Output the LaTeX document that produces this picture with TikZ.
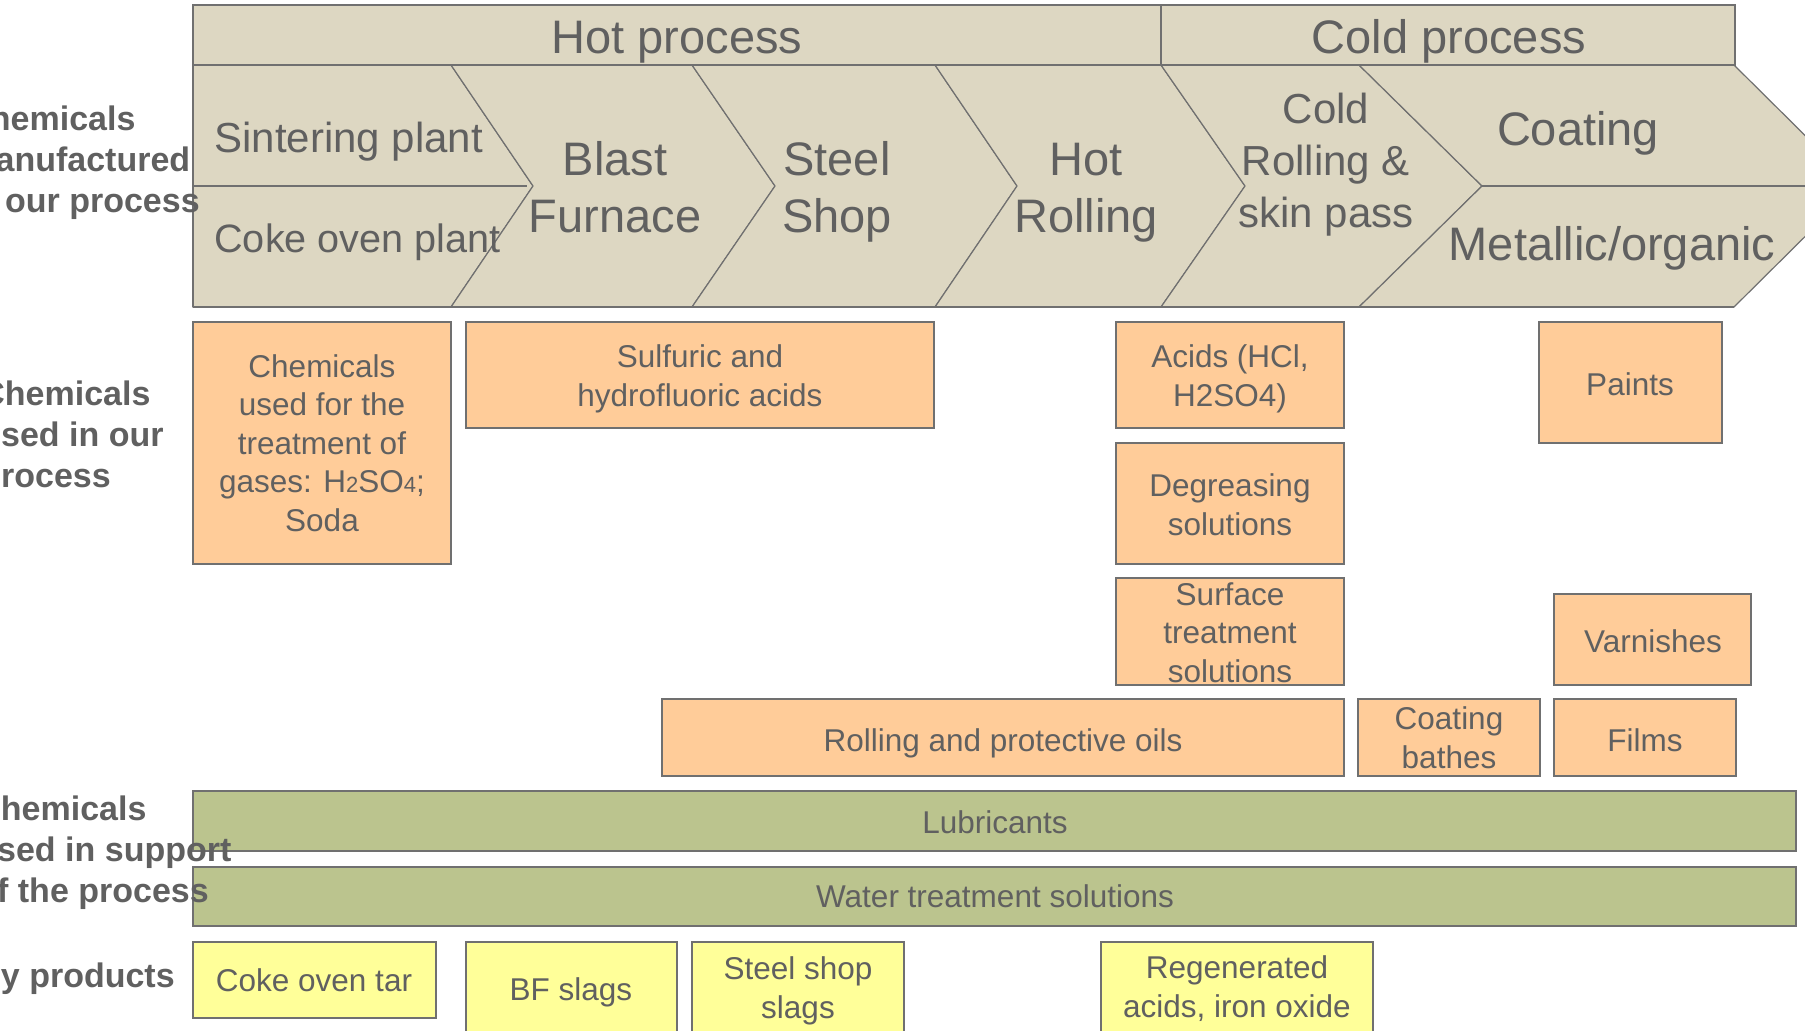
\documentclass[tikz,border=0pt]{standalone}
\usepackage{fontspec}
\setmainfont{Liberation Sans}
\definecolor{bandtan}{RGB}{221,215,194}
\definecolor{boxorange}{RGB}{255,204,153}
\definecolor{supgreen}{RGB}{187,196,142}
\definecolor{prodyellow}{RGB}{255,255,153}
\definecolor{edgegray}{RGB}{112,112,112}
\definecolor{inkgray}{RGB}{96,96,96}
\newcommand{\chemdig}[1]{{\fontsize{11}{13}\selectfont #1}}

\begin{document}
\begin{tikzpicture}[x=0.5pt,y=0.5pt,yscale=-1,xscale=1,
  band/.style={draw=edgegray, fill=bandtan, line width=1pt},
  notch/.style={draw=edgegray, fill=bandtan, line width=0.6pt},
  obox/.style={draw=edgegray, fill=boxorange, line width=1pt},
  gbox/.style={draw=edgegray, fill=supgreen, line width=1pt},
  ybox/.style={draw=edgegray, fill=prodyellow, line width=1pt},
  txt/.style={text=inkgray, inner sep=0pt},
  head/.style={txt, font=\fontsize{23.5}{28.5}\selectfont, align=center},
  stagetxt/.style={txt, font=\fontsize{21}{26}\selectfont, align=center},
  boxtxt/.style={txt, font=\fontsize{15.75}{19.25}\selectfont, align=center},
  side/.style={txt, font=\bfseries\fontsize{17}{20.5}\selectfont, align=left, anchor=base west}
]
\useasboundingbox (0,0) rectangle (1805,1030);
\clip (0,0) rectangle (1805,1030);

%Shape: Rectangle (hot / cold header)
\draw[band] (193,4.6) rectangle (1161,65);
\draw[band] (1161,4.6) rectangle (1735,65);

%Shape: Chevrons
\draw[notch] (193,65) -- (451,65) -- (533,186) -- (451,307) -- (193,307) -- cycle;
\draw[notch] (451,65) -- (692,65) -- (775,186) -- (692,307) -- (451,307) -- (533,186) -- cycle;
\draw[notch] (692,65) -- (935,65) -- (1017,186) -- (935,307) -- (692,307) -- (775,186) -- cycle;
\draw[notch] (935,65) -- (1161,65) -- (1245,186) -- (1161,307) -- (935,307) -- (1017,186) -- cycle;
\draw[notch] (1161,65) -- (1359,65) -- (1482,186) -- (1359,307) -- (1161,307) -- (1245,186) -- cycle;
\draw[notch] (1359,65) -- (1734,65) -- (1856,186) -- (1734,307) -- (1359,307) -- (1482,186) -- cycle;
%Straight Lines
\draw[edgegray, line width=0.8pt] (193,186) -- (527,186);
\draw[edgegray, line width=0.8pt] (1482,186) -- (1856,186);
\draw[edgegray, line width=1pt] (193,65) -- (1734,65) (193,307) -- (1734,307) (193,65) -- (193,307);

%Shape: Rectangle (chemicals used in our process)
\draw[obox] (193,322) rectangle (451,564);
\draw[obox] (466,322) rectangle (934,428);
\draw[obox] (1116,322) rectangle (1344,428);
\draw[obox] (1116,443) rectangle (1344,564);
\draw[obox] (1116,578) rectangle (1344,685);
\draw[obox] (1539,322) rectangle (1722,443);
\draw[obox] (1554,594) rectangle (1751,685);
\draw[obox] (662,699) rectangle (1344,776);
\draw[obox] (1358,699) rectangle (1540,776);
\draw[obox] (1554,699) rectangle (1736,776);

%Shape: Rectangle (support)
\draw[gbox] (193,791) rectangle (1796,851);
\draw[gbox] (193,867) rectangle (1796,926);

%Shape: Rectangle (by products)
\draw[ybox] (193,942) rectangle (436,1018);
\draw[ybox] (466,942) rectangle (677,1045);
\draw[ybox] (692,942) rectangle (904,1045);
\draw[ybox] (1101,942) rectangle (1373,1045);

% Text Node
\node[head, anchor=base] (hot) at (677,53) {Hot process};
\node[head, anchor=base] (cold) at (1449,53) {Cold process};
\node[stagetxt, anchor=base west] (sinter) at (214,152) {Sintering plant};
\node[stagetxt, font=\fontsize{19.8}{24}\selectfont, anchor=base west] (coke) at (214,252) {Coke oven plant};
\node[head, anchor=base] (blast) at (615,232) {Blast\\Furnace};
\node[head, anchor=base] (steel) at (837,232) {Steel\\Shop};
\node[head, anchor=base] (hotroll) at (1086,232) {Hot\\Rolling};
\node[stagetxt, anchor=base] (coldroll) at (1326,227) {Cold\\Rolling \&\\skin pass};
\node[head, anchor=base] (coating) at (1578,145) {Coating};
\node[head, anchor=base] (metal) at (1612,260) {Metallic/organic};

% Text Node
\node[boxtxt, anchor=base] (gases) at (322,531) {Chemicals\\used for the\\treatment of\\gases: H\chemdig{2}SO\chemdig{4};\\Soda};
\node[boxtxt, anchor=base] (sulf) at (700,406) {Sulfuric and\\hydrofluoric acids};
\node[boxtxt, anchor=base] (acids) at (1230,406) {Acids (HCl,\\H2SO4)};
\node[boxtxt, anchor=base] (degr) at (1230,535) {Degreasing\\solutions};
\node[boxtxt, anchor=base] (surf) at (1230,682) {Surface\\treatment\\solutions};
\node[boxtxt, anchor=base] (paints) at (1630,395) {Paints};
\node[boxtxt, anchor=base] (varn) at (1653,652) {Varnishes};
\node[boxtxt, anchor=base] (oils) at (1003,751) {Rolling and protective oils};
\node[boxtxt, anchor=base] (baths) at (1449,768) {Coating\\bathes};
\node[boxtxt, anchor=base] (films) at (1645,751) {Films};
\node[boxtxt, anchor=base] (lubr) at (995,833) {Lubricants};
\node[boxtxt, anchor=base] (water) at (995,907) {Water treatment solutions};
\node[boxtxt, anchor=base] (tar) at (314,991) {Coke oven tar};
\node[boxtxt, anchor=base] (bfslag) at (571,1000) {BF slags};
\node[boxtxt, anchor=base] (ssslag) at (798,1018) {Steel shop\\slags};
\node[boxtxt, anchor=base] (regen) at (1237,1017) {Regenerated\\acids, iron oxide};

% Text Node
\node[side] (madelbl) at (-35,212) {Chemicals\\manufactured\\in our process};
\node[side] (usedlbl) at (-20,487) {Chemicals\\used in our\\process};
\node[side] (supplbl) at (-24,902) {Chemicals\\used in support\\of the process};
\node[side] (bylbl) at (-24,987) {By products};

\end{tikzpicture}
\end{document}
